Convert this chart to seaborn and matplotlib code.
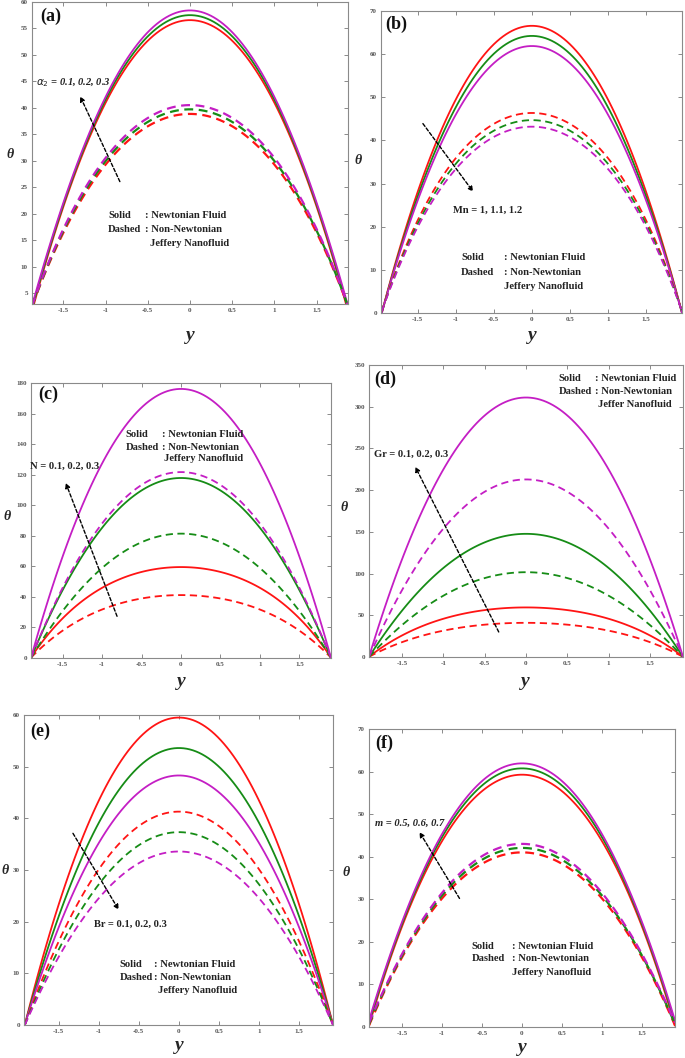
import matplotlib
matplotlib.use('Agg')
import matplotlib.pyplot as plt
import seaborn as sns

sns.set_style('ticks')
plt.rcParams['font.family'] = ['Liberation Serif', 'DejaVu Serif']

W, H = 685, 1058
RED, GREEN, MAGENTA = '#ff1414', '#168c16', '#c41ec4'

# ---------- data ----------
# (a) alpha_2 = 0.1, 0.2, 0.3
y_a = [-1.87, -1.75, -1.5, -1.25, -1.0, -0.75, -0.5, -0.25, 0,
       0.25, 0.5, 0.75, 1.0, 1.25, 1.5, 1.75, 1.87]
a_solid_red = [1.5, 8.6, 21.3, 32.1, 40.9, 47.8, 52.7, 55.6, 56.6,
               55.6, 52.7, 47.8, 40.9, 32.1, 21.3, 8.6, 1.5]
a_solid_green = [2.2, 8.7, 21.7, 32.6, 41.6, 48.5, 53.5, 56.5, 57.5,
                 56.5, 53.5, 48.5, 41.6, 32.6, 21.7, 8.7, 2.2]
a_solid_magenta = [3.0, 8.9, 22.0, 33.1, 42.2, 49.2, 54.3, 57.3, 58.3,
                   57.3, 54.3, 49.2, 42.2, 33.1, 22.0, 8.9, 3.0]
a_dash_red = [2.7, 7.4, 16.3, 23.6, 29.4, 33.7, 36.6, 38.2, 38.7,
              38.2, 36.6, 33.7, 29.4, 23.6, 16.3, 7.4, 2.7]
a_dash_green = [2.8, 7.5, 16.6, 24.2, 30.1, 34.5, 37.4, 39.0, 39.6,
                39.0, 37.4, 34.5, 30.1, 24.2, 16.6, 7.5, 2.8]
a_dash_magenta = [2.8, 7.7, 17.0, 24.6, 30.7, 35.1, 38.2, 39.8, 40.4,
                  39.8, 38.2, 35.1, 30.7, 24.6, 17.0, 7.7, 2.8]

# (b) Mn = 1, 1.1, 1.2
y_b = [-1.97, -1.75, -1.5, -1.25, -1.0, -0.75, -0.5, -0.25, 0,
       0.25, 0.5, 0.75, 1.0, 1.25, 1.5, 1.75, 1.97]
b_solid_red = [0, 14.1, 28.0, 39.8, 49.4, 56.9, 62.3, 65.5, 66.6,
               65.5, 62.3, 56.9, 49.4, 39.8, 28.0, 14.1, 0]
b_solid_green = [0, 13.5, 27.0, 38.3, 47.6, 54.9, 60.1, 63.2, 64.2,
                 63.2, 60.1, 54.9, 47.6, 38.3, 27.0, 13.5, 0]
b_solid_magenta = [0, 13.1, 26.0, 37.0, 45.9, 52.9, 57.9, 60.9, 61.9,
                   60.9, 57.9, 52.9, 45.9, 37.0, 26.0, 13.1, 0]
b_dash_red = [0.5, 11.1, 21.3, 29.6, 36.0, 40.7, 43.9, 45.6, 46.2,
              45.6, 43.9, 40.7, 36.0, 29.6, 21.3, 11.1, 0.5]
b_dash_green = [0.5, 10.7, 20.5, 28.5, 34.7, 39.2, 42.3, 44.0, 44.5,
                44.0, 42.3, 39.2, 34.7, 28.5, 20.5, 10.7, 0.5]
b_dash_magenta = [0.5, 10.3, 19.8, 27.5, 33.5, 37.8, 40.9, 42.5, 43.0,
                  42.5, 40.9, 37.8, 33.5, 27.5, 19.8, 10.3, 0.5]

# (c) N = 0.1, 0.2, 0.3
y_c = [-1.9, -1.75, -1.5, -1.25, -1.0, -0.75, -0.5, -0.25, 0,
       0.25, 0.5, 0.75, 1.0, 1.25, 1.5, 1.75, 1.9]
c_solid_red = [0, 11.9, 25.5, 36.8, 46.3, 52.5, 56.3, 58.6, 59.3,
               58.6, 56.3, 52.5, 46.3, 36.8, 25.5, 11.9, 0]
c_solid_green = [0, 17.9, 44.4, 66.8, 85.2, 99.4, 109.7, 115.8, 117.8,
                 115.8, 109.7, 99.4, 85.2, 66.8, 44.4, 17.9, 0]
c_solid_magenta = [0, 26.8, 66.4, 99.8, 127.3, 148.6, 164.0, 173.1, 176.1,
                   173.1, 164.0, 148.6, 127.3, 99.8, 66.4, 26.8, 0]
c_dash_red = [0, 8.2, 17.6, 25.4, 32.0, 36.3, 39.0, 40.5, 41.0,
              40.5, 39.0, 36.3, 32.0, 25.4, 17.6, 8.2, 0]
c_dash_green = [0, 12.4, 30.7, 46.2, 58.9, 68.7, 75.8, 80.0, 81.4,
                80.0, 75.8, 68.7, 58.9, 46.2, 30.7, 12.4, 0]
c_dash_magenta = [0, 18.5, 45.9, 69.0, 88.0, 102.7, 113.3, 119.6, 121.7,
                  119.6, 113.3, 102.7, 88.0, 69.0, 45.9, 18.5, 0]

# (d) Gr = 0.1, 0.2, 0.3
y_d = [-1.9, -1.75, -1.5, -1.25, -1.0, -0.75, -0.5, -0.25, 0,
       0.25, 0.5, 0.75, 1.0, 1.25, 1.5, 1.75, 1.9]
d_solid_red = [0, 11.8, 25.5, 36.7, 46.2, 52.4, 56.2, 58.5, 59.2,
               58.5, 56.2, 52.4, 46.2, 36.7, 25.5, 11.8, 0]
d_solid_green = [0, 22.4, 55.6, 83.7, 106.7, 124.6, 137.4, 145.1, 147.6,
                 145.1, 137.4, 124.6, 106.7, 83.7, 55.6, 22.4, 0]
d_solid_magenta = [0, 47.3, 117.2, 176.3, 224.9, 262.5, 289.5, 305.7, 311.0,
                   305.7, 289.5, 262.5, 224.9, 176.3, 117.2, 47.3, 0]
d_dash_red = [0, 8.2, 17.5, 25.3, 31.8, 36.1, 38.8, 40.3, 40.8,
              40.3, 38.8, 36.1, 31.8, 25.3, 17.5, 8.2, 0]
d_dash_green = [0, 15.4, 38.3, 57.6, 73.5, 85.8, 94.6, 99.9, 101.6,
                99.9, 94.6, 85.8, 73.5, 57.6, 38.3, 15.4, 0]
d_dash_magenta = [0, 32.3, 80.2, 120.7, 153.9, 179.6, 198.1, 209.2, 212.8,
                  209.2, 198.1, 179.6, 153.9, 120.7, 80.2, 32.3, 0]

# (e) Br = 0.1, 0.2, 0.3
y_e = [-1.92, -1.75, -1.5, -1.25, -1.0, -0.75, -0.5, -0.25, 0,
       0.25, 0.5, 0.75, 1.0, 1.25, 1.5, 1.75, 1.92]
e_solid_red = [0, 10.1, 23.2, 34.3, 43.4, 50.4, 55.5, 58.5, 59.5,
               58.5, 55.5, 50.4, 43.4, 34.3, 23.2, 10.1, 0]
e_solid_green = [0, 9.1, 20.9, 30.9, 39.1, 45.4, 50.0, 52.7, 53.6,
                 52.7, 50.0, 45.4, 39.1, 30.9, 20.9, 9.1, 0]
e_solid_magenta = [0, 8.2, 18.8, 27.8, 35.2, 40.9, 45.0, 47.5, 48.3,
                   47.5, 45.0, 40.9, 35.2, 27.8, 18.8, 8.2, 0]
e_dash_red = [0, 7.0, 16.1, 23.8, 30.1, 35.0, 38.5, 40.6, 41.3,
              40.6, 38.5, 35.0, 30.1, 23.8, 16.1, 7.0, 0]
e_dash_green = [0, 6.3, 14.5, 21.5, 27.2, 31.6, 34.8, 36.7, 37.3,
                36.7, 34.8, 31.6, 27.2, 21.5, 14.5, 6.3, 0]
e_dash_magenta = [0, 5.7, 13.1, 19.4, 24.5, 28.5, 31.3, 33.0, 33.6,
                  33.0, 31.3, 28.5, 24.5, 19.4, 13.1, 5.7, 0]

# (f) m = 0.5, 0.6, 0.7
y_f = [-1.91, -1.75, -1.5, -1.25, -1.0, -0.75, -0.5, -0.25, 0,
       0.25, 0.5, 0.75, 1.0, 1.25, 1.5, 1.75, 1.91]
f_solid_red = [0, 10.6, 23.5, 34.5, 43.5, 50.4, 55.4, 58.4, 59.4,
               58.4, 55.4, 50.4, 43.5, 34.5, 23.5, 10.6, 0]
f_solid_green = [0.8, 10.8, 24.1, 35.3, 44.5, 51.6, 56.7, 59.8, 60.8,
                 59.8, 56.7, 51.6, 44.5, 35.3, 24.1, 10.8, 0.8]
f_solid_magenta = [1.6, 11.0, 24.5, 36.0, 45.3, 52.6, 57.8, 60.8, 61.9,
                   60.8, 57.8, 52.6, 45.3, 36.0, 24.5, 11.0, 1.6]
f_dash_red = [0.2, 7.3, 16.3, 23.9, 30.1, 34.9, 38.3, 40.4, 41.1,
              40.4, 38.3, 34.9, 30.1, 23.9, 16.3, 7.3, 0.2]
f_dash_green = [0.6, 7.5, 16.7, 24.5, 30.8, 35.7, 39.3, 41.4, 42.1,
                41.4, 39.3, 35.7, 30.8, 24.5, 16.7, 7.5, 0.6]
f_dash_magenta = [1.0, 7.7, 17.0, 25.0, 31.5, 36.5, 40.1, 42.3, 43.0,
                  42.3, 40.1, 36.5, 31.5, 25.0, 17.0, 7.7, 1.0]

x_ticks = [-1.5, -1, -0.5, 0, 0.5, 1, 1.5]
x_tick_labels = ['-1.5', '-1', '-0.5', '0', '0.5', '1', '1.5']

fig = plt.figure(figsize=(W / 100, H / 100), dpi=100)


def px_rect(left, top, right, bottom):
    return [left / W, 1 - bottom / H, (right - left) / W, (bottom - top) / H]


def fig_text(px, py, s, **kw):
    fig.text(px / W, 1 - py / H, s, **kw)


def panel(rect, y, solids, dashes, xlim, ylim, yticks, dash_lw=1.3):
    ax = fig.add_axes(px_rect(*rect))
    # smooth profile through the read points (quartic fit, symmetric data)
    for vals, c in zip(solids, [RED, GREEN, MAGENTA]):
        sns.regplot(x=y, y=vals, order=4, ci=None, scatter=False, color=c,
                    line_kws=dict(lw=1.3), ax=ax)
    for vals, c in zip(dashes, [RED, GREEN, MAGENTA]):
        sns.regplot(x=y, y=vals, order=4, ci=None, scatter=False, color=c,
                    line_kws=dict(lw=dash_lw, dashes=(4, 2.5)), ax=ax)
    ax.set_xlim(*xlim)
    ax.set_ylim(*ylim)
    ax.set_xticks(x_ticks)
    ax.set_xticklabels(x_tick_labels)
    ax.set_yticks(yticks)
    ax.set_yticklabels([str(t) for t in yticks])
    ax.tick_params(direction='in', length=3, width=0.6, top=True, right=True,
                   labelsize=5, labelcolor='#555555', colors='#777777', pad=3)
    for lab in ax.get_xticklabels() + ax.get_yticklabels():
        lab.set_fontweight('bold')
        lab.set_color('#555555')
    for sp in ax.spines.values():
        sp.set_color('#8a8a8a')
        sp.set_linewidth(0.8)
    ax.set_xlabel('')
    ax.set_ylabel('')
    return ax


FS = 7.6


def note(ax, x0, xc, xj, y1, y2, y3, jtext='Jeffery Nanofluid', fs=FS):
    kw = dict(fontsize=fs, fontweight='bold', color='#222222', va='center', ha='left')
    ax.text(x0, y1, 'Solid', **kw)
    ax.text(xc, y1, ': Newtonian Fluid', **kw)
    ax.text(x0, y2, 'Dashed', **kw)
    ax.text(xc, y2, ': Non-Newtonian', **kw)
    ax.text(xj, y3, jtext, **kw)


def arrow(ax, tail, head):
    ax.annotate('', xy=head, xytext=tail,
                arrowprops=dict(arrowstyle='-|>', linestyle=(0, (2.5, 1.5)), lw=1.0,
                                color='black', mutation_scale=7, shrinkA=0, shrinkB=0))


lbl = dict(fontsize=13, fontweight='bold', ha='left', va='center', color='#111111')
theta = dict(fontsize=10, fontweight='bold', fontstyle='italic', ha='center', va='center')
ylab = dict(fontsize=14, fontweight='bold', fontstyle='italic', ha='center', va='center')
ann = dict(fontsize=FS, fontweight='bold', va='center', ha='left', color='#222222')

# (a)
ax = panel((32, 2, 348, 304), y_a,
           [a_solid_red, a_solid_green, a_solid_magenta],
           [a_dash_red, a_dash_green, a_dash_magenta],
           (-1.87, 1.87), (3, 60), list(range(5, 61, 5)), dash_lw=1.6)
ax.text(-1.82, 44.7, r'$\alpha_2$ = 0.1, 0.2, 0.3', fontstyle='italic', **ann)
arrow(ax, (-0.83, 26.1), (-1.30, 42.2))
note(ax, -0.97, -0.53, -0.47, 19.7, 17.1, 14.4)
fig_text(40, 16, '(a)', **lbl)
fig_text(10, 155, 'θ', **theta)
fig_text(190, 336, 'y', **ylab)

# (b)
ax = panel((381, 11, 682, 313), y_b,
           [b_solid_red, b_solid_green, b_solid_magenta],
           [b_dash_red, b_dash_green, b_dash_magenta],
           (-1.98, 1.97), (0, 70), list(range(0, 71, 10)))
ax.text(-1.04, 23.7, 'Mn = 1, 1.1, 1.2', **ann)
arrow(ax, (-1.43, 43.9), (-0.77, 28.1))
note(ax, -0.93, -0.37, -0.37, 12.8, 9.5, 6.2)
fig_text(385, 24, '(b)', **lbl)
fig_text(358, 160, 'θ', **theta)
fig_text(532, 336, 'y', **ylab)

# (c)
ax = panel((31, 383, 331, 658), y_c,
           [c_solid_red, c_solid_green, c_solid_magenta],
           [c_dash_red, c_dash_green, c_dash_magenta],
           (-1.9, 1.9), (0, 180), list(range(0, 181, 20)))
ax.text(-1.91, 125.5, 'N = 0.1, 0.2, 0.3', **ann)
arrow(ax, (-0.81, 27.3), (-1.46, 114.6))
note(ax, -0.70, -0.24, -0.215, 146.6, 138.1, 130.3)
fig_text(38, 394, '(c)', **lbl)
fig_text(7, 517, 'θ', **theta)
fig_text(181, 681, 'y', **ylab)

# (d)
ax = panel((369, 365, 683, 657), y_d,
           [d_solid_red, d_solid_green, d_solid_magenta],
           [d_dash_red, d_dash_green, d_dash_magenta],
           (-1.9, 1.9), (0, 350), list(range(0, 351, 50)))
ax.text(-1.84, 242.8, 'Gr = 0.1, 0.2, 0.3', **ann)
arrow(ax, (-0.33, 30), (-1.34, 228))
note(ax, 0.395, 0.84, 0.87, 333.6, 318, 303.2, jtext='Jeffer Nanofluid')
fig_text(374, 379, '(d)', **lbl)
fig_text(344, 508, 'θ', **theta)
fig_text(525, 681, 'y', **ylab)

# (e)
ax = panel((24, 715, 333, 1025), y_e,
           [e_solid_red, e_solid_green, e_solid_magenta],
           [e_dash_red, e_dash_green, e_dash_magenta],
           (-1.93, 1.92), (0, 60), list(range(0, 61, 10)))
ax.text(-1.06, 19.5, 'Br = 0.1, 0.2, 0.3', **ann)
arrow(ax, (-1.32, 37.1), (-0.75, 22.3))
note(ax, -0.74, -0.315, -0.26, 11.8, 9.2, 6.6)
fig_text(30, 731, '(e)', **lbl)
fig_text(5, 871, 'θ', **theta)
fig_text(179, 1046, 'y', **ylab)

# (f)
ax = panel((369, 729, 675, 1027), y_f,
           [f_solid_red, f_solid_green, f_solid_magenta],
           [f_dash_red, f_dash_green, f_dash_magenta],
           (-1.91, 1.91), (0, 70), list(range(0, 71, 10)), dash_lw=1.6)
ax.text(-1.84, 47.8, 'm = 0.5, 0.6, 0.7', fontstyle='italic', **ann)
arrow(ax, (-0.78, 30.2), (-1.28, 45.8))
note(ax, -0.63, -0.125, -0.125, 19.0, 16.0, 12.9)
fig_text(375, 743, '(f)', **lbl)
fig_text(346, 873, 'θ', **theta)
fig_text(522, 1047, 'y', **ylab)

fig.savefig('out.png', dpi=100, facecolor='white')
